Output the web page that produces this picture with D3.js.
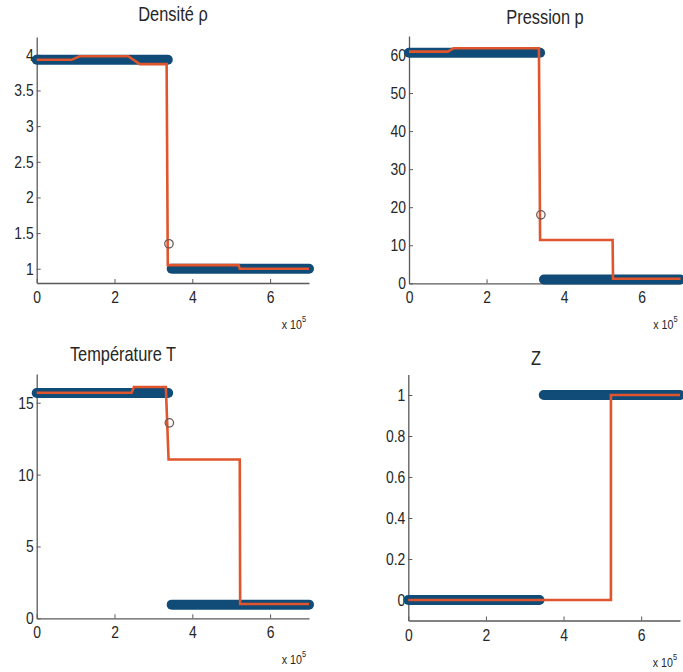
<!DOCTYPE html>
<html>
<head>
<meta charset="utf-8">
<script src="https://cdn.jsdelivr.net/npm/d3@7"></script>
<style>
	body { margin: 0; background: #fff; }
	text { font-family: "Liberation Sans", Arial, sans-serif; fill: #262626; }
</style>
</head>
<body>
<script>
'use strict';

// x in metres, labelled in units of 1e5
let xTicks = [0, 2e5, 4e5, 6e5];
let titles = ['Densité ρ', 'Pression p', 'Température T', 'Z'];

// Densité
let densTicks = [1, 1.5, 2, 2.5, 3, 3.5, 4];
let densExactL = [[0, 3.93], [3.37e5, 3.93]];
let densExactR = [[3.47e5, 1.0], [7e5, 1.0]];
let densExactMid = [[3.40e5, 1.35]];
let densNum = [[0, 3.93], [0.9e5, 3.93], [1.1e5, 3.98], [2.35e5, 3.98], [2.65e5, 3.87], [3.34e5, 3.87],
	[3.37e5, 1.05], [5.19e5, 1.05], [5.22e5, 1.0], [7e5, 1.0]];

// Pression
let presTicks = [0, 10, 20, 30, 40, 50, 60];
let presExactL = [[0, 60.6], [3.38e5, 60.6]];
let presExactR = [[3.48e5, 1.0], [7e5, 1.0]];
let presExactMid = [[3.40e5, 18]];
let presNum = [[0, 60.9], [1.0e5, 60.9], [1.15e5, 61.8], [3.35e5, 61.8], [3.38e5, 11.4], [5.25e5, 11.4],
	[5.26e5, 1.2], [7e5, 1.2]];

// Température
let tempTicks = [0, 5, 10, 15];
let tempExactL = [[0, 15.68], [3.38e5, 15.68]];
let tempExactR = [[3.47e5, 0.95], [7e5, 0.95]];
let tempExactMid = [[3.41e5, 13.6]];
let tempNum = [[0, 15.7], [2.44e5, 15.7], [2.5e5, 16.1], [3.32e5, 16.1], [3.39e5, 11.05], [5.22e5, 11.05],
	[5.23e5, 1.0], [7e5, 1.0]];

// Z
let zTicks = [0, 0.2, 0.4, 0.6, 0.8, 1];
let zExactL = [[0, 0], [3.38e5, 0]];
let zExactR = [[3.49e5, 1], [7e5, 1]];
let zExactMid = [];
let zNum = [[0, 0], [5.22e5, 0], [5.22e5, 1], [7e5, 1]];

let blue = '#114b78';
let orange = '#e0552b';
let SX = 0.82; // the printed font is narrower than Liberation Sans

let panels = [
	{title: titles[0], tx: 173, ty: 21, ticks: densTicks, yDomain: [0.8, 4.25], x: [36.7, 309], y: [283, 37],
		exact: [densExactL, densExactR], mid: densExactMid, num: densNum},
	{title: titles[1], tx: 545, ty: 24, ticks: presTicks, yDomain: [0, 65], x: [409, 680.5], y: [283.3, 36],
		exact: [presExactL, presExactR], mid: presExactMid, num: presNum},
	{title: titles[2], tx: 123, ty: 361, ticks: tempTicks, yDomain: [0, 17], x: [36.7, 309], y: [618.3, 374],
		exact: [tempExactL, tempExactR], mid: tempExactMid, num: tempNum},
	{title: titles[3], tx: 536, ty: 365, ticks: zTicks, yDomain: [-0.1, 1.1], x: [408.3, 680], y: [620.5, 374.5],
		exact: [zExactL, zExactR], mid: zExactMid, num: zNum}
];

let svg = d3.select('body').append('svg').attr('width', 683).attr('height', 672);

function squeeze(sel) {
	sel.selectAll('.tick text')
		.attr('transform', 'scale(' + SX + ',1)')
		.attr('x', function(){ return (+d3.select(this).attr('x') || 0) / SX; });
}

panels.forEach(function(p){
	let x = d3.scaleLinear().domain([0, 7e5]).range(p.x);
	let y = d3.scaleLinear().domain(p.yDomain).range(p.y);

	let line = d3.line()
		.x(function(d){ return x(d[0]); })
		.y(function(d){ return y(d[1]); });

	let g = svg.append('g');

	// axes (MATLAB style, ticks inside, no box)
	let xAxis = d3.axisBottom(x).tickValues(xTicks)
		.tickFormat(function(d){ return d / 1e5; })
		.tickSizeInner(-4).tickSizeOuter(0).tickPadding(8);
	let yAxis = d3.axisLeft(y).tickValues(p.ticks)
		.tickFormat(function(d){ return String(d); })
		.tickSizeInner(-4).tickSizeOuter(0).tickPadding(3);

	let gx = g.append('g').attr('transform', 'translate(0,' + p.y[0] + ')').call(xAxis);
	let gy = g.append('g').attr('transform', 'translate(' + p.x[0] + ',0)').call(yAxis);
	[gx, gy].forEach(function(a){
		a.select('.domain').attr('stroke', '#5a5a5a').attr('stroke-width', 1.3);
		a.selectAll('.tick line').attr('stroke', '#5a5a5a');
		a.selectAll('.tick text').style('font-size', '17px').attr('fill', '#262626');
		squeeze(a);
	});

	// exact solution: dense circle markers -> thick band
	p.exact.forEach(function(seg){
		g.append('path')
			.attr('d', line(seg))
			.attr('stroke', blue)
			.attr('stroke-width', 10)
			.attr('stroke-linecap', 'round')
			.attr('fill', 'none');
	});

	// numerical solution
	g.append('path')
		.attr('d', line(p.num))
		.attr('stroke', orange)
		.attr('stroke-width', 2.6)
		.attr('fill', 'none');

	// isolated point of the exact solution inside the jump
	g.selectAll('circle.mid').data(p.mid).enter().append('circle')
		.attr('class', 'mid')
		.attr('cx', function(d){ return x(d[0]); })
		.attr('cy', function(d){ return y(d[1]); })
		.attr('r', 4.2)
		.attr('fill', 'none')
		.attr('stroke', '#6a5a5a')
		.attr('stroke-width', 1.3);

	// title
	g.append('g').attr('transform', 'translate(' + p.tx + ',' + p.ty + ')')
		.append('text')
		.attr('transform', 'scale(' + SX + ',1)')
		.attr('text-anchor', 'middle')
		.style('font-size', '20px')
		.text(p.title);

	// x 10^5 multiplier
	let m = g.append('g').attr('transform', 'translate(' + (p.x[1] - 3) + ',' + (p.y[0] + 46) + ')')
		.append('text')
		.attr('transform', 'scale(' + SX + ',1)')
		.attr('text-anchor', 'end')
		.style('font-size', '13px');
	m.append('tspan').text('x 10');
	m.append('tspan').attr('dy', -7).style('font-size', '9px').text('5');
});
</script>
</body>
</html>
